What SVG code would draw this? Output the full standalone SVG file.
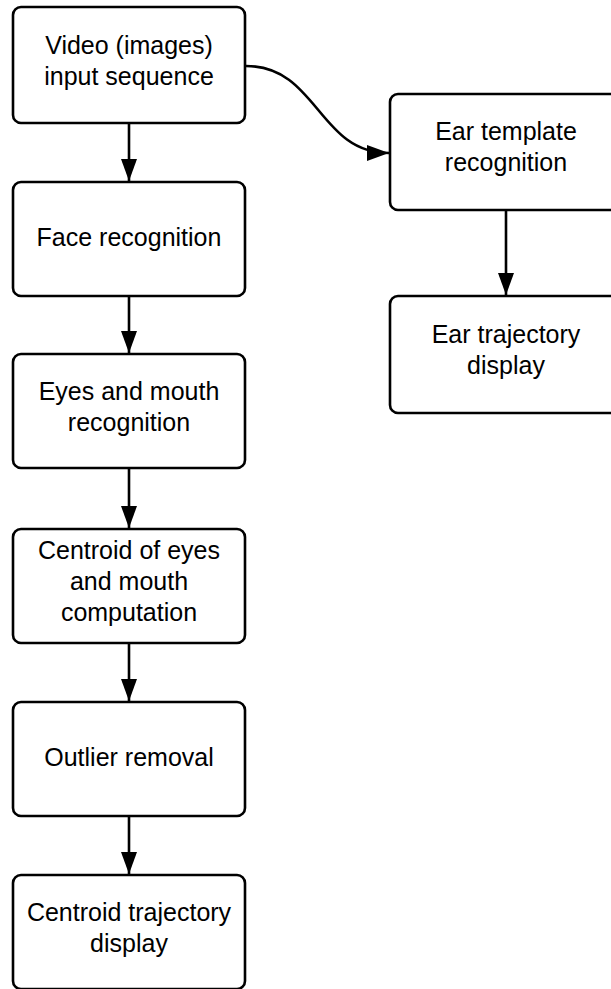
<svg xmlns="http://www.w3.org/2000/svg" width="611" height="989" viewBox="0 0 611 989">
<defs>
<style>
.box{fill:#fff;stroke:#000;stroke-width:2.6}
.t{font-family:"Liberation Sans",Arial,sans-serif;font-size:25px;fill:#000;text-anchor:middle}
.c{fill:none;stroke:#000;stroke-width:2.6}
</style>
<marker id="ah" markerWidth="22" markerHeight="18" refX="22" refY="9" orient="auto" markerUnits="userSpaceOnUse">
<path d="M0,1 L22,9 L0,17 Z" fill="#000"/>
</marker>
</defs>
<rect width="611" height="989" fill="#fff"/>
<g id="connectors">
<path class="c" d="M129,123 L129,181" marker-end="url(#ah)"/>
<path class="c" d="M129,296 L129,353" marker-end="url(#ah)"/>
<path class="c" d="M129,468 L129,528" marker-end="url(#ah)"/>
<path class="c" d="M129,643 L129,701" marker-end="url(#ah)"/>
<path class="c" d="M129,816 L129,874" marker-end="url(#ah)"/>
<path class="c" d="M506,210 L506,295" marker-end="url(#ah)"/>
<path class="c" d="M246,66 C318,66 318,153 389,153" marker-end="url(#ah)"/>
</g>
<g id="n1"><rect class="box" x="13" y="7" width="232" height="116" rx="8"/>
<text class="t" x="129" y="54">Video (images)</text><text class="t" x="129" y="85">input sequence</text></g>
<g id="n2"><rect class="box" x="13" y="182" width="232" height="114" rx="8"/>
<text class="t" x="129" y="246">Face recognition</text></g>
<g id="n3"><rect class="box" x="13" y="354" width="232" height="114" rx="8"/>
<text class="t" x="129" y="400">Eyes and mouth</text><text class="t" x="129" y="431">recognition</text></g>
<g id="n4"><rect class="box" x="13" y="529" width="232" height="114" rx="8"/>
<text class="t" x="129" y="559">Centroid of eyes</text><text class="t" x="129" y="590">and mouth</text><text class="t" x="129" y="621">computation</text></g>
<g id="n5"><rect class="box" x="13" y="702" width="232" height="114" rx="8"/>
<text class="t" x="129" y="766">Outlier removal</text></g>
<g id="n6"><rect class="box" x="13" y="875" width="232" height="114" rx="8"/>
<text class="t" x="129" y="921">Centroid trajectory</text><text class="t" x="129" y="952">display</text></g>
<g id="n7"><rect class="box" x="390" y="94" width="232" height="116" rx="8"/>
<text class="t" x="506" y="140">Ear template</text><text class="t" x="506" y="171">recognition</text></g>
<g id="n8"><rect class="box" x="390" y="296" width="232" height="117" rx="8"/>
<text class="t" x="506" y="343">Ear trajectory</text><text class="t" x="506" y="374">display</text></g>
</svg>
